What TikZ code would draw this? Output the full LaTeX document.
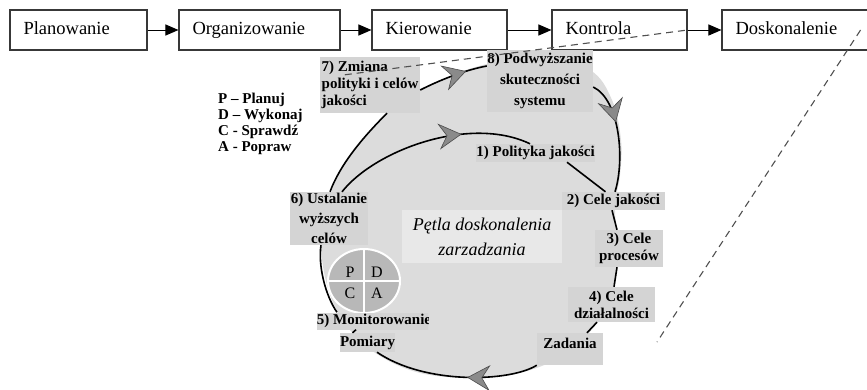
\documentclass[tikz,border=0pt]{standalone}
\usepackage{fontspec}
\setmainfont{Liberation Serif}
\usetikzlibrary{arrows.meta,shapes.geometric,decorations.markings,calc}

\definecolor{discgray}{HTML}{DCDCDC}
\definecolor{lblgray}{HTML}{D4D4D4}
\definecolor{titlegray}{HTML}{E8E8E8}
\definecolor{pdcagray}{HTML}{B8B8B8}
\definecolor{tipgray}{HTML}{8A8A8A}
\definecolor{dashgray}{HTML}{505050}
\definecolor{boxline}{HTML}{383838}

\tikzset{
  stage/.style={draw=boxline, line width=1.1pt, fill=white, minimum height=40pt,
    inner xsep=13.5pt, inner ysep=0pt, align=left, font=\fontsize{18.5}{20}\selectfont,
    execute at begin node=\strut},
  flow/.style={line width=1pt, -{Triangle[length=13pt,width=11pt]}},
  lbl/.style={fill=lblgray, inner sep=0pt, font=\bfseries\fontsize{15}{17}\selectfont},
  loopline/.style={line width=1.6pt, black},
  midtip/.style={postaction=decorate, decoration={markings, mark=at position #1 with
    {\arrow{Stealth[length=23pt,width=26pt,inset=8pt,fill=tipgray,color=black!70,line width=0.6pt]}}}},
  funnel/.style={dashgray, line width=1.1pt, dash pattern=on 7pt off 5pt},
  quarter/.style={font=\fontsize{16}{16}\selectfont, inner sep=0pt},
}

\begin{document}
\begin{tikzpicture}[x=1pt,y=-1pt]
\useasboundingbox (0,0) rectangle (867,389);

% background disc of the improvement loop
\fill[discgray] plot[smooth cycle, tension=0.6] coordinates {
  (321,247) (327,205) (345,162) (370,132) (400,102) (440,80) (487,64) (540,56)
  (590,70) (612,100) (621,140) (620,175) (615,205) (617,240) (616,275) (603,312)
  (585,337) (555,360) (515,374) (470,378) (420,373) (380,356) (350,330) (330,295)};

% management functions
\node[stage, text width=110pt] (plan) at (78.5,30) {Planowanie};
\node[stage, text width=134pt] (org) at (259.5,30) {Organizowanie};
\node[stage, text width=108pt] (kier) at (439.5,30) {Kierowanie};
\node[stage, text width=108pt] (kontr) at (619.5,30) {Kontrola};
\node[stage, text width=119pt] (dosk) at (795,30) {Doskonalenie};
\draw[flow] (plan) -- (org);
\draw[flow] (org) -- (kier);
\draw[flow] (kier) -- (kontr);
\draw[flow] (kontr) -- (dosk);

% title of the loop and PDCA wheel
\node[fill=titlegray, minimum width=160pt, minimum height=53pt, inner sep=0pt, align=center,
  font=\itshape\fontsize{18}{25}\selectfont] (petla) at (482,236.5)
  {Pętla doskonalenia\\zarzadzania};
\node[ellipse, fill=pdcagray, draw=white, line width=2pt, minimum width=72pt,
  minimum height=64pt, inner sep=0pt] (pdca) at (364,281) {};
\draw[white, line width=2pt] (pdca.north) -- (pdca.south) (pdca.west) -- (pdca.east);
\node[quarter] (qp) at (350,272) {P};
\node[quarter] (qd) at (377,272) {D};
\node[quarter] (qc) at (350,293) {C};
\node[quarter] (qa) at (377,293) {A};

% legend
\node[anchor=north west, align=left, inner sep=0pt, font=\bfseries\fontsize{15}{16}\selectfont]
  (legend) at (218,93) {P – Planuj\\D – Wykonaj\\C - Sprawdź\\A - Popraw};

% steps of the loop
\node[lbl, minimum width=100pt, minimum height=56pt, align=left] (l7) at (370,85)
  {7) Zmiana\\polityki i celów\\jakości};
\node[lbl, minimum width=106pt, minimum height=62pt, align=center,
  font=\bfseries\fontsize{15}{21}\selectfont] (l8) at (540,81)
  {8) Podwyższanie\\skuteczności\\systemu};
\node[lbl, minimum width=119pt, minimum height=18pt] (l1) at (535.5,153) {1) Polityka jakości};
\node[lbl, minimum width=103pt, minimum height=18pt] (l2) at (613.5,201) {2) Cele jakości};
\node[lbl, minimum width=68pt, minimum height=37pt, align=center] (l3) at (629,248.5) {3) Cele\\procesów};
\node[lbl, minimum width=87pt, minimum height=35pt, align=center] (l4) at (611.5,304.5) {4) Cele\\działalności};
\node[lbl, minimum width=66pt, minimum height=32pt, text height=15pt, text depth=17pt] (lz) at (570,349) {Zadania};
\begin{scope}
  \clip (300,300) rectangle (428,331);
  \node[lbl, minimum height=17pt] (l5) at (374,321) {5) Monitorowanie};
\end{scope}
\node[lbl, minimum width=55pt, minimum height=19pt] (lpom) at (367.5,342.5) {Pomiary};
\node[lbl, minimum width=78pt, minimum height=53pt, align=center,
  font=\bfseries\fontsize{15}{20}\selectfont] (l6) at (329,218.5) {6) Ustalanie\\wyższych\\celów};

% outer loop
\draw[loopline] ([xshift=1pt]l6.north) .. controls +(10,-27) and +(-25,25) .. ([xshift=17pt]l7.south);
\draw[loopline, midtip=0.7] ([yshift=-5pt]l7.east) .. controls (440,80) and (465,70) .. ([yshift=15pt]l8.west);
\draw[loopline, midtip=0.38] ([yshift=-6pt]l8.east) .. controls (620,100) and (625,160) .. ([xshift=1.5pt]l2.north);
% inner path through the quality policy
\draw[loopline, midtip=0.66] ([xshift=13pt]l6.north) .. controls (375,150) and (470,115) .. ([xshift=-5.5pt]l1.north);
\draw[loopline] ([xshift=31.5pt]l1.south) -- ([xshift=-8pt]l2.north);
% descending chain of objectives
\draw[loopline] ([xshift=-1.5pt]l2.south) -- ([xshift=-12pt]l3.north);
\draw[loopline] ([xshift=-12pt]l3.south) -- ([xshift=2.5pt]l4.north);
\draw[loopline] ([xshift=-14.5pt]l4.south) -- ([xshift=17pt]lz.north);
\draw[loopline, midtip=0.43] (lz.south west) .. controls (510,382) and (425,385) .. ([xshift=9.5pt]lpom.south);
\draw[loopline] ([xshift=-15pt]lpom.north) -- ([xshift=-18pt]l5.south);
\draw[loopline] ([xshift=-37pt]l5.north) .. controls (325,295) and (318,265) .. ([xshift=-8pt]l6.south);

% funnel from control and improvement into the loop
\coordinate (fend) at (657,342);
\draw[funnel] ([xshift=25pt,yshift=-18pt]l7.north west) -- (kontr.east);
\draw[funnel] ([xshift=-8pt]dosk.east) -- (fend);
\end{tikzpicture}
\end{document}
